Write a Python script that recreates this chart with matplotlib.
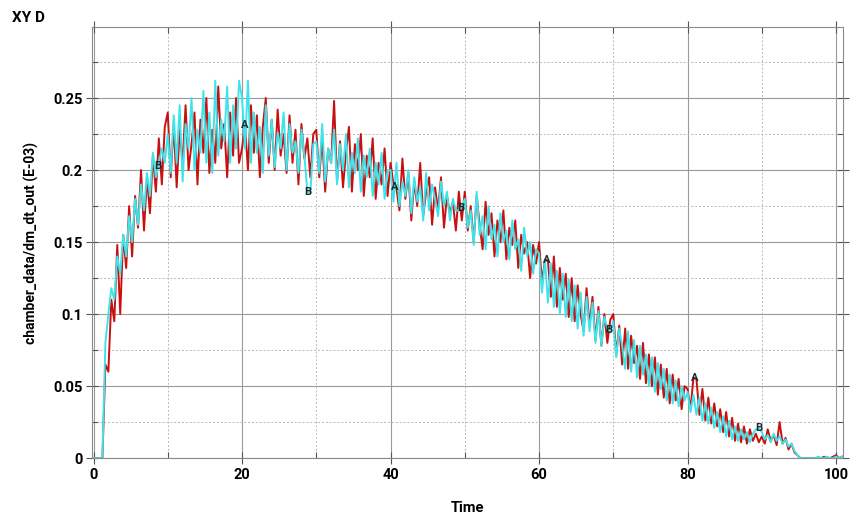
import numpy as np
import matplotlib.pyplot as plt
from matplotlib.ticker import MultipleLocator

plt.rcParams['font.family'] = ['Roboto', 'DejaVu Sans']

# time axis, sampled every 0.4
time = np.arange(0, 101.0, 0.4)

# values in thousandths of the axis unit (axis shows E-03), one list per 10 time units
red_00 = [0, 0, 0, 0, 65, 60, 110, 95, 148, 100, 155, 132, 175, 140, 182, 160, 200, 158, 195, 170,
          210, 185, 222, 190, 230]
red_10 = [240, 195, 232, 188, 228, 205, 245, 200, 218, 240, 190, 235, 212, 250, 198, 228, 205, 258, 215, 232,
          195, 240, 210, 250, 205]
red_20 = [215, 231, 200, 245, 212, 238, 195, 230, 250, 205, 235, 200, 242, 210, 225, 198, 238, 205, 228, 190,
          232, 208, 222, 195, 225]
red_30 = [228, 195, 222, 185, 215, 205, 248, 192, 220, 188, 212, 230, 185, 218, 200, 225, 182, 210, 195, 222,
          180, 205, 190, 215, 182]
red_40 = [205, 190, 187, 172, 208, 180, 198, 165, 192, 175, 205, 168, 185, 195, 162, 188, 172, 195, 160, 182,
          170, 178, 158, 185, 165]
red_50 = [185, 158, 175, 150, 182, 162, 145, 178, 155, 170, 140, 165, 150, 172, 138, 160, 148, 165, 132, 155,
          142, 150, 125, 148, 135]
red_60 = [150, 122, 138, 137, 112, 140, 105, 132, 110, 128, 98, 125, 95, 120, 100, 88, 118, 92, 112, 82,
          105, 78, 100, 80, 96]
red_70 = [100, 72, 92, 65, 90, 62, 85, 66, 78, 55, 80, 52, 72, 50, 70, 44, 65, 42, 62, 38,
          58, 40, 55, 34, 50]
red_80 = [48, 34, 56, 55, 30, 48, 26, 42, 24, 38, 22, 34, 18, 32, 15, 28, 12, 24, 11, 22,
          10, 20, 12, 17, 11]
red_90 = [15, 10, 20, 12, 16, 9, 25, 10, 14, 6, 10, 4, 2, 0, 0, 0, 0, 0, 0, 0,
          0, 1, 0, 0, 1]
red_100 = [2, 0, 1]

cyan_00 = [0, 0, 0, 0, 80, 100, 118, 110, 140, 128, 155, 140, 168, 150, 180, 162, 190, 172, 198, 182,
           212, 195, 205, 215, 205]
cyan_10 = [225, 198, 238, 205, 245, 192, 232, 215, 250, 200, 228, 212, 255, 205, 240, 198, 262, 210, 235, 220,
           258, 205, 245, 215, 262]
cyan_20 = [250, 215, 262, 205, 240, 212, 230, 198, 245, 210, 235, 202, 226, 215, 240, 200, 232, 212, 220, 198,
           228, 210, 185, 184, 218]
cyan_30 = [220, 198, 232, 192, 215, 205, 228, 190, 218, 200, 225, 188, 212, 198, 222, 185, 210, 195, 215, 182,
           205, 190, 212, 180, 200]
cyan_40 = [200, 178, 205, 175, 192, 182, 200, 170, 195, 178, 188, 165, 198, 172, 190, 180, 168, 192, 175, 185,
           165, 180, 172, 172, 175]
cyan_50 = [180, 160, 172, 148, 185, 155, 168, 145, 175, 152, 162, 140, 170, 150, 158, 138, 165, 145, 152, 130,
           160, 140, 150, 128, 145]
cyan_60 = [142, 115, 138, 108, 135, 105, 130, 100, 128, 98, 124, 95, 120, 90, 115, 85, 112, 88, 108, 80,
           102, 78, 98, 90, 88]
cyan_70 = [95, 70, 90, 78, 62, 88, 60, 82, 56, 78, 58, 72, 50, 70, 46, 66, 48, 62, 40, 58,
           38, 54, 36, 50, 40]
cyan_80 = [46, 32, 44, 30, 42, 26, 38, 24, 35, 21, 32, 18, 29, 15, 26, 13, 22, 12, 20, 13,
           18, 11, 17, 20, 21]
cyan_90 = [18, 13, 16, 11, 17, 12, 15, 10, 13, 8, 10, 5, 2, 0, 0, 0, 0, 0, 0, 1,
           0, 0, 1, 0, 0]
cyan_100 = [1, 0, 1]

# curve label positions (time)
label_a_times = [20.4, 40.6, 61.0, 81.0]
label_b_times = [8.7, 28.9, 49.4, 69.4, 89.6]

red = np.concatenate([red_00, red_10, red_20, red_30, red_40, red_50,
                      red_60, red_70, red_80, red_90, red_100]) / 1000
cyan = np.concatenate([cyan_00, cyan_10, cyan_20, cyan_30, cyan_40, cyan_50,
                       cyan_60, cyan_70, cyan_80, cyan_90, cyan_100]) / 1000

fig = plt.figure(figsize=(8.56, 5.2), dpi=100)
ax = fig.add_axes([0.1075, 0.119, 0.877, 0.829])

ax.plot(time, red, color='#c81010', lw=1.4)
ax.plot(time, cyan, color='#3fe3ea', lw=1.4)

for t in label_a_times:
    ax.text(t, np.interp(t, time, red), 'A', fontsize=8, fontweight='bold',
            color='#1b2b2b', ha='center', va='center')
for t in label_b_times:
    ax.text(t, np.interp(t, time, cyan), 'B', fontsize=8, fontweight='bold',
            color='#1b2b2b', ha='center', va='center')

ax.set_xlim(-0.2, 100.9)
ax.set_ylim(0, 0.2993)
ax.set_xticks([0, 20, 40, 60, 80, 100])
ax.set_yticks([0, 0.05, 0.1, 0.15, 0.2, 0.25])
ax.set_yticklabels(['0', '0.05', '0.1', '0.15', '0.2', '0.25'])
ax.xaxis.set_minor_locator(MultipleLocator(10))
ax.yaxis.set_minor_locator(MultipleLocator(0.025))

ax.grid(which='major', color='#9a9a9a', lw=0.8, ls='-')
ax.grid(which='minor', color='#b8b8b8', lw=0.7, ls=(0, (2, 2)))
ax.set_axisbelow(True)

ax.tick_params(which='major', direction='inout', length=8, width=0.8, color='#555555',
               labelsize=10.5, top=True, right=True, pad=3)
ax.tick_params(which='minor', direction='in', length=4, width=0.8, color='#555555',
               top=True, right=True)
for lbl in ax.get_xticklabels() + ax.get_yticklabels():
    lbl.set_fontweight('bold')
for sp in ax.spines.values():
    sp.set_color('#8a8a8a')

ax.set_xlabel('Time', fontsize=10.5, fontweight='bold', labelpad=14)
ax.set_ylabel('chamber_data/dm_dt_out (E-03)', fontsize=10, fontweight='bold', labelpad=10)
fig.text(0.014, 0.965, 'XY D', fontsize=11, fontweight='bold', ha='left', va='center')

fig.savefig('out.png', dpi=100)
